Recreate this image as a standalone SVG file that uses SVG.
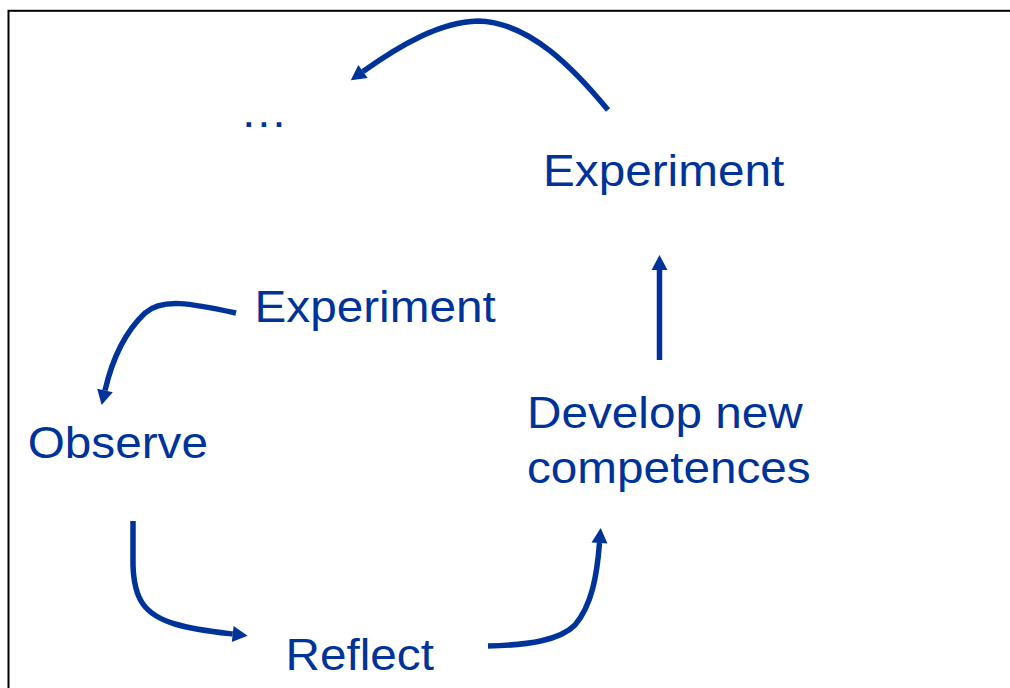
<svg xmlns="http://www.w3.org/2000/svg" width="1010" height="688" viewBox="0 0 1010 688">
  <style>
    .lbl { font-family: "Liberation Sans", Arial, sans-serif; font-size: 45px; fill: #003399; }
    .conn { fill: none; stroke: #003399; stroke-width: 5.5; stroke-linecap: butt; }
  </style>
  <defs>
    <marker id="head" markerUnits="userSpaceOnUse" markerWidth="16" markerHeight="16" refX="0" refY="8" orient="auto" overflow="visible">
      <path d="M0,0 L15,8 L0,16 Z" fill="#003399"/>
    </marker>
  </defs>

  <rect width="1010" height="688" fill="#ffffff"/>
  <!-- frame, open at right and bottom -->
  <rect x="8.5" y="10.8" width="1100" height="800" fill="none" stroke="#000000" stroke-width="2"/>

  <g id="connectors">
    <path class="conn" marker-end="url(#head)" d="M608,110 C575,70 530,22 478,21 C440,22 400,45 363,71.5"/>
    <path class="conn" marker-end="url(#head)" d="M659.5,360 L659.5,270"/>
    <path class="conn" marker-end="url(#head)" d="M236,313 C190,303 162,298 145,313 C125,332 112,360 105,390.5"/>
    <path class="conn" marker-end="url(#head)" d="M133,521 L133,565 C134,600 145,615 175,624 C195,630 215,632 232.7,634"/>
    <path class="conn" marker-end="url(#head)" d="M488,646 C530,645 560,640 575,625 C592,605 597,575 599.5,543"/>
  </g>

  <g id="node-ellipsis">
    <text class="lbl" transform="translate(240,127) scale(1.06,1)">…</text>
  </g>
  <g id="node-experiment-top">
    <text class="lbl" transform="translate(543,186) scale(1.06,1)">Experiment</text>
  </g>
  <g id="node-experiment-mid">
    <text class="lbl" transform="translate(254.5,322) scale(1.06,1)">Experiment</text>
  </g>
  <g id="node-observe">
    <text class="lbl" transform="translate(27.7,457.5) scale(1.06,1)">Observe</text>
  </g>
  <g id="node-reflect">
    <text class="lbl" transform="translate(285.5,670.3) scale(1.06,1)">Reflect</text>
  </g>
  <g id="node-develop">
    <text class="lbl" transform="translate(527,428.3) scale(1.06,1)">Develop new</text>
    <text class="lbl" transform="translate(527,483.3) scale(1.06,1)">competences</text>
  </g>
</svg>
